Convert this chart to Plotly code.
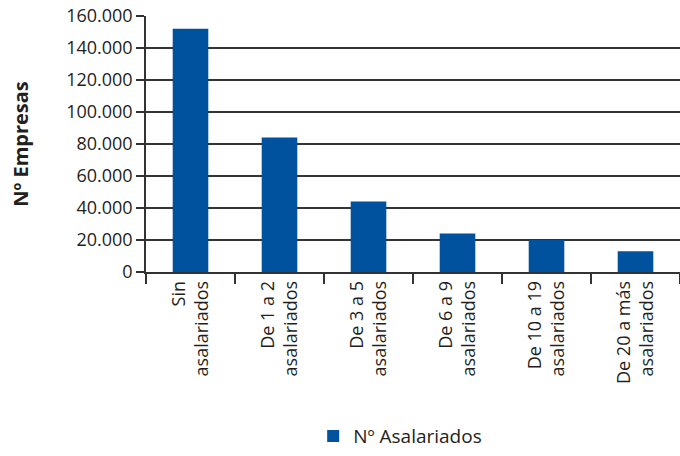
import plotly.graph_objects as go

categories = ["Sin<br>asalariados", "De 1 a 2<br>asalariados", "De 3 a 5<br>asalariados",
              "De 6 a 9<br>asalariados", "De 10 a 19<br>asalariados", "De 20 a más<br>asalariados"]
values = [152000, 84000, 44000, 24000, 20000, 13000]
series_name = "Nº Asalariados"
y_tickvals = [0, 20000, 40000, 60000, 80000, 100000, 120000, 140000, 160000]

fig = go.Figure()
fig.add_trace(go.Bar(x=categories, y=values, name=series_name,
                     marker=dict(color="#00529f", line=dict(width=0))))

font_family = "Open Sans"
txt = "#231f20"
fig.update_layout(
    width=680, height=456,
    margin=dict(l=146, r=0, t=16, b=184, autoexpand=False),
    paper_bgcolor="white", plot_bgcolor="white",
    separators=",.",
    bargap=0.6,
    showlegend=True,
    legend=dict(orientation="h", x=0.476, xanchor="center", y=-0.715, yanchor="bottom",
                font=dict(family=font_family, size=19, color=txt)),
    font=dict(family=font_family, color=txt),
)
fig.update_yaxes(range=[0, 160000], tickvals=y_tickvals, tickformat=",d",
                 showgrid=True, gridcolor="#333", gridwidth=1.5,
                 ticks="outside", ticklen=8, tickcolor="#333", tickwidth=1.5,
                 showline=True, linecolor="#333", linewidth=1.5,
                 zeroline=False, automargin=False,
                 tickfont=dict(size=18, family=font_family, color=txt),
                 title=dict(text="<b>Nº Empresas</b>", font=dict(size=20, family=font_family, color=txt),
                            standoff=32))
fig.update_xaxes(tickangle=-90, ticks="outside", tickson="boundaries", ticklen=10,
                 tickcolor="#333", tickwidth=1.5, automargin=False,
                 showline=True, linecolor="#333", linewidth=1.5,
                 tickfont=dict(size=18, family=font_family, color=txt))

fig.write_html("out.html")
